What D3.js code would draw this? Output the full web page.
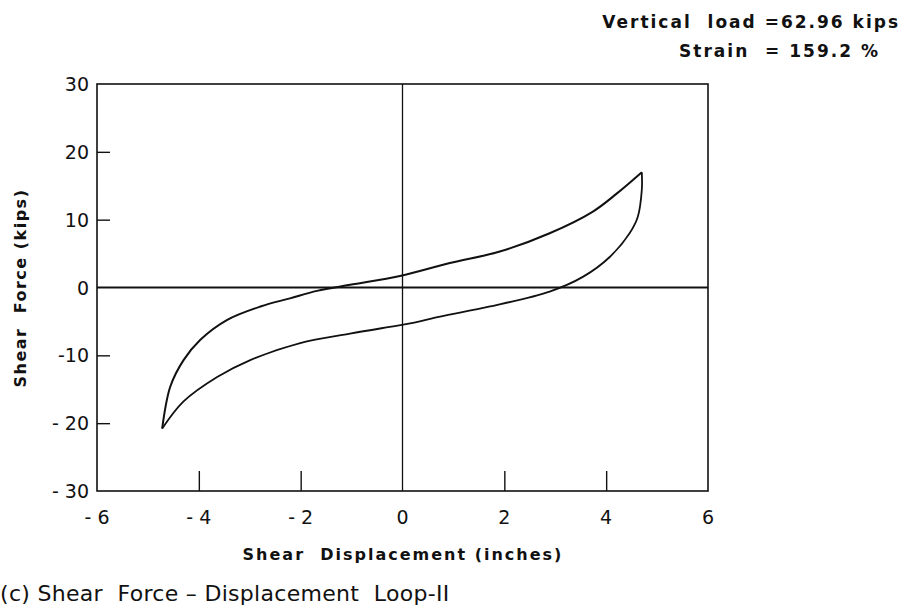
<!DOCTYPE html>
<html>
<head>
<meta charset="utf-8">
<script src="https://cdn.jsdelivr.net/npm/d3@7"></script>
<style>
  body { margin: 0; background: #fff; }
  text { font-family: "DejaVu Sans", sans-serif; fill: #111; white-space: pre; }
</style>
</head>
<body>
<div id="graph"></div>
<script>
// loop: displacement (in) and shear force (kips)
var upperDisp  = [-4.72, -4.56, -4.30, -3.97, -3.45, -2.79, -2.21, -1.68, -1.03, -0.05, 0.93, 1.91, 2.89, 3.74, 4.20, 4.70];
var upperForce = [-20.8, -14.6, -10.7, -7.7, -4.8, -2.8, -1.6, -0.5, 0.4, 1.7, 3.6, 5.3, 8.0, 11.2, 13.8, 17.0];
var lowerDisp  = [4.70, 4.70, 4.62, 4.46, 4.07, 3.55, 2.89, 1.72, 0.74, 0.15, -0.25, -1.03, -2.01, -2.99, -3.64, -4.30, -4.72];
var lowerForce = [17.0, 14.4, 10.4, 8.0, 4.5, 1.6, -0.6, -2.8, -4.3, -5.3, -5.8, -6.8, -8.2, -10.7, -13.2, -16.8, -20.8];

var xTicks = [-6, -4, -2, 0, 2, 4, 6];
var xTickLabels = ["- 6", "- 4", "- 2", "0", "2", "4", "6"];
var yTicks = [30, 20, 10, 0, -10, -20, -30];
var yTickLabels = ["30", "20", "10", "0", "-10", "- 20", "- 30"];

var width = 914, height = 614;
var plotLeft = 97, plotRight = 708, plotTop = 84, plotBottom = 491;

var svg = d3.select('#graph').append('svg')
    .attr('width', width)
    .attr('height', height);

var x = d3.scaleLinear().domain([-6, 6]).range([plotLeft, plotRight]);
var y = d3.scaleLinear().domain([-30, 30]).range([plotBottom, plotTop]);

// frame
svg.append('rect')
    .attr('x', plotLeft).attr('y', plotTop)
    .attr('width', plotRight - plotLeft).attr('height', plotBottom - plotTop)
    .attr('fill', 'none').attr('stroke', '#111').attr('stroke-width', 1.6);

// zero lines
svg.append('line')
    .attr('x1', x(0)).attr('x2', x(0)).attr('y1', plotTop).attr('y2', plotBottom)
    .attr('stroke', '#111').attr('stroke-width', 1.3);
svg.append('line')
    .attr('x1', plotLeft).attr('x2', plotRight).attr('y1', y(0)).attr('y2', y(0))
    .attr('stroke', '#111').attr('stroke-width', 1.8);

// inward ticks
var yAxis = d3.axisRight(y)
    .tickValues(yTicks.filter(function(d) { return Math.abs(d) != 30 && d != 0; }))
    .tickSize(13).tickFormat('');
svg.append('g')
    .attr('transform', 'translate(' + plotLeft + ',0)')
    .call(yAxis)
    .call(function(g) { g.select('.domain').remove(); })
    .selectAll('line').attr('stroke', '#111').attr('stroke-width', 1.4);

var xAxis = d3.axisTop(x)
    .tickValues(xTicks.filter(function(d) { return Math.abs(d) != 6 && d != 0; }))
    .tickSize(20).tickFormat('');
svg.append('g')
    .attr('transform', 'translate(0,' + plotBottom + ')')
    .call(xAxis)
    .call(function(g) { g.select('.domain').remove(); })
    .selectAll('line').attr('stroke', '#111').attr('stroke-width', 1.4);

// tick labels
svg.append('g').selectAll('text')
    .data(yTicks)
    .enter().append('text')
    .attr('x', 89)
    .attr('y', function(d) { return y(d) + 7; })
    .attr('text-anchor', 'end')
    .style('font-size', '19px')
    .text(function(d, i) { return yTickLabels[i]; });

svg.append('g').selectAll('text')
    .data(xTicks)
    .enter().append('text')
    .attr('x', function(d) { return x(d); })
    .attr('y', 524)
    .attr('text-anchor', 'middle')
    .style('font-size', '19px')
    .text(function(d, i) { return xTickLabels[i]; });

// the loop
var line = d3.line()
    .x(function(d) { return x(d[0]); })
    .y(function(d) { return y(d[1]); })
    .curve(d3.curveCatmullRom.alpha(0.5));

var upper = upperDisp.map(function(d, i) { return [d, upperForce[i]]; });
var lower = lowerDisp.map(function(d, i) { return [d, lowerForce[i]]; });

svg.append('path').datum(upper)
    .attr('d', line)
    .attr('fill', 'none').attr('stroke', '#111').attr('stroke-width', 2);
svg.append('path').datum(lower)
    .attr('d', line)
    .attr('fill', 'none').attr('stroke', '#111').attr('stroke-width', 1.8);

// axis titles
svg.append('text')
    .attr('x', 403).attr('y', 560)
    .attr('text-anchor', 'middle')
    .style('font-size', '16px').style('font-weight', 'bold')
    .style('letter-spacing', '2px')
    .text('Shear  Displacement (inches)');

svg.append('text')
    .attr('transform', 'translate(26,' + 288 + ') rotate(-90)')
    .attr('text-anchor', 'middle')
    .style('font-size', '16px').style('font-weight', 'bold')
    .style('letter-spacing', '1.5px')
    .text('Shear  Force (kips)');

// caption
svg.append('text')
    .attr('x', 0).attr('y', 601)
    .style('font-size', '22px')
    .style('letter-spacing', '0.3px')
    .text('(c) Shear  Force \u2013 Displacement  Loop-II');

// test conditions
svg.append('text')
    .attr('x', 900).attr('y', 28)
    .attr('text-anchor', 'end')
    .style('font-size', '17px').style('font-weight', 'bold')
    .style('letter-spacing', '2px')
    .text('Vertical  load =62.96 kips');
svg.append('text')
    .attr('x', 880).attr('y', 57)
    .attr('text-anchor', 'end')
    .style('font-size', '17px').style('font-weight', 'bold')
    .style('letter-spacing', '2px')
    .text('Strain  = 159.2 %');
</script>
</body>
</html>
